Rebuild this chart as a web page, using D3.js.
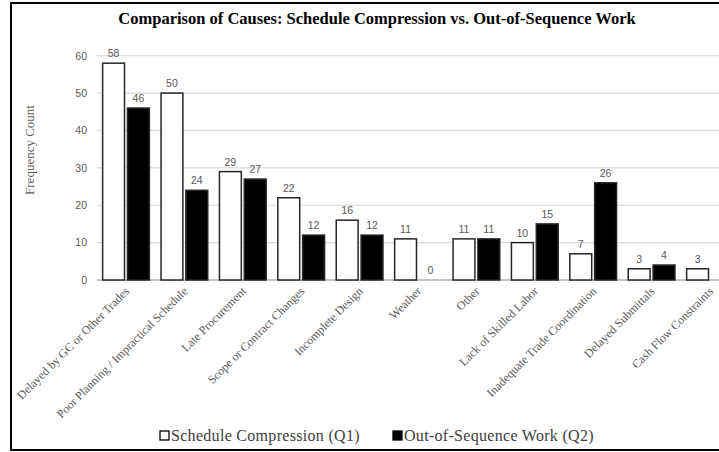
<!DOCTYPE html>
<html>
<head>
<meta charset="utf-8">
<script src="https://cdn.jsdelivr.net/npm/d3@7"></script>
<style>
  body { margin: 0; background: #fff; }
  svg { display: block; }
</style>
</head>
<body>
<script>
// chart data
var categories = ["Delayed by GC or Other Trades", "Poor Planning / Impractical Schedule",
  "Late Procurement", "Scope or Contract Changes", "Incomplete Design", "Weather", "Other",
  "Lack of Skilled Labor", "Inadequate Trade Coordination", "Delayed Submittals", "Cash Flow Constraints"];
var q1Values = [58, 50, 29, 22, 16, 11, 11, 10, 7, 3, 3];
var q2Values = [46, 24, 27, 12, 12, 0, 11, 15, 26, 4, null]; // last one not shown in the picture
var seriesNames = ["Schedule Compression (Q1)", "Out-of-Sequence Work (Q2)"];
var yTicks = [0, 10, 20, 30, 40, 50, 60];

var width = 719, height = 452;
var serif = "'Liberation Serif', 'Times New Roman', serif";
var sans = "'Liberation Sans', Arial, sans-serif";

var svg = d3.select("body").append("svg")
  .attr("width", width)
  .attr("height", height);

// outer frame (right side runs off the picture)
svg.append("rect")
  .attr("x", 11).attr("y", 3)
  .attr("width", 760).attr("height", 447)
  .attr("fill", "none")
  .attr("stroke", "#000")
  .attr("stroke-width", 2);

// plot area
var x0 = 96.8, step = 58.4;
var x = d3.scaleBand()
  .domain(categories)
  .range([x0, x0 + step * categories.length])
  .paddingInner(0.2)
  .paddingOuter(0.1);

var xSub = d3.scaleBand()
  .domain(seriesNames)
  .range([0, x.bandwidth()])
  .paddingInner(0.12);

var y = d3.scaleLinear()
  .domain([0, 60])
  .range([280, 55.7]);

// gridlines
svg.append("g")
  .selectAll("line")
  .data(yTicks)
  .enter().append("line")
  .attr("x1", x0).attr("x2", width)
  .attr("y1", function(d) { return y(d); })
  .attr("y2", function(d) { return y(d); })
  .attr("stroke", function(d) { return d == 0 ? "#8c8c8c" : "#d9d9d9"; })
  .attr("stroke-width", 1.2);

// y axis labels
var yAxis = d3.axisLeft(y).tickValues(yTicks).tickSize(0).tickPadding(0);
svg.append("g")
  .attr("transform", "translate(87,0)")
  .call(yAxis)
  .call(function(g) { g.select(".domain").remove(); })
  .selectAll("text")
  .attr("font-family", sans)
  .attr("font-size", "10.5px")
  .attr("fill", "#595959");

// y axis title
svg.append("text")
  .attr("transform", "translate(34,150) rotate(-90)")
  .attr("text-anchor", "middle")
  .attr("font-family", serif)
  .attr("font-size", "13px")
  .attr("fill", "#595959")
  .text("Frequency Count");

// bars
var rows = categories.map(function(c, i) {
  return { cat: c, vals: [
    { s: seriesNames[0], v: q1Values[i] },
    { s: seriesNames[1], v: q2Values[i] }
  ].filter(function(d) { return d.v != null; }) };
});

var groups = svg.append("g")
  .selectAll("g")
  .data(rows)
  .enter().append("g")
  .attr("transform", function(d) { return "translate(" + x(d.cat) + ",0)"; });

groups.selectAll("rect")
  .data(function(d) { return d.vals; })
  .enter().append("rect")
  .attr("x", function(d) { return xSub(d.s); })
  .attr("y", function(d) { return y(d.v); })
  .attr("width", xSub.bandwidth())
  .attr("height", function(d) { return y(0) - y(d.v); })
  .attr("fill", function(d) { return d.s == seriesNames[0] ? "#fff" : "#000"; })
  .attr("stroke", function(d) { return d.v > 0 ? "#262626" : "none"; })
  .attr("stroke-width", 1.5);

// value labels
groups.selectAll("text")
  .data(function(d) { return d.vals; })
  .enter().append("text")
  .attr("x", function(d) { return xSub(d.s) + xSub.bandwidth() / 2; })
  .attr("y", function(d) { return y(d.v) - 6; })
  .attr("text-anchor", "middle")
  .attr("font-family", sans)
  .attr("font-size", "10.5px")
  .attr("fill", "#595959")
  .text(function(d) { return d.v; });

// category labels, rotated
svg.append("g")
  .selectAll("text")
  .data(categories)
  .enter().append("text")
  .attr("transform", function(d) {
    return "translate(" + (x(d) + x.bandwidth() / 2 + 4) + ",292) rotate(-45)";
  })
  .attr("text-anchor", "end")
  .attr("font-family", serif)
  .attr("font-size", "12px")
  .attr("fill", "#595959")
  .text(function(d) { return d; });

// title
svg.append("text")
  .attr("x", 377).attr("y", 24)
  .attr("text-anchor", "middle")
  .attr("font-family", serif)
  .attr("font-weight", "bold")
  .attr("font-size", "16.5px")
  .attr("fill", "#000")
  .text("Comparison of Causes: Schedule Compression vs. Out-of-Sequence Work");

// legend
var legendX = [160, 393];
var legend = svg.append("g")
  .selectAll("g")
  .data(seriesNames)
  .enter().append("g")
  .attr("transform", function(d, i) { return "translate(" + legendX[i] + ",431)"; });

legend.append("rect")
  .attr("width", 9).attr("height", 9)
  .attr("fill", function(d, i) { return i == 0 ? "#fff" : "#000"; })
  .attr("stroke", "#000")
  .attr("stroke-width", 1.3);

legend.append("text")
  .attr("x", 11).attr("y", 10)
  .attr("font-family", serif)
  .attr("font-size", "16px")
  .attr("letter-spacing", "0.3px")
  .attr("fill", "#404040")
  .text(function(d) { return d; });
</script>
</body>
</html>
